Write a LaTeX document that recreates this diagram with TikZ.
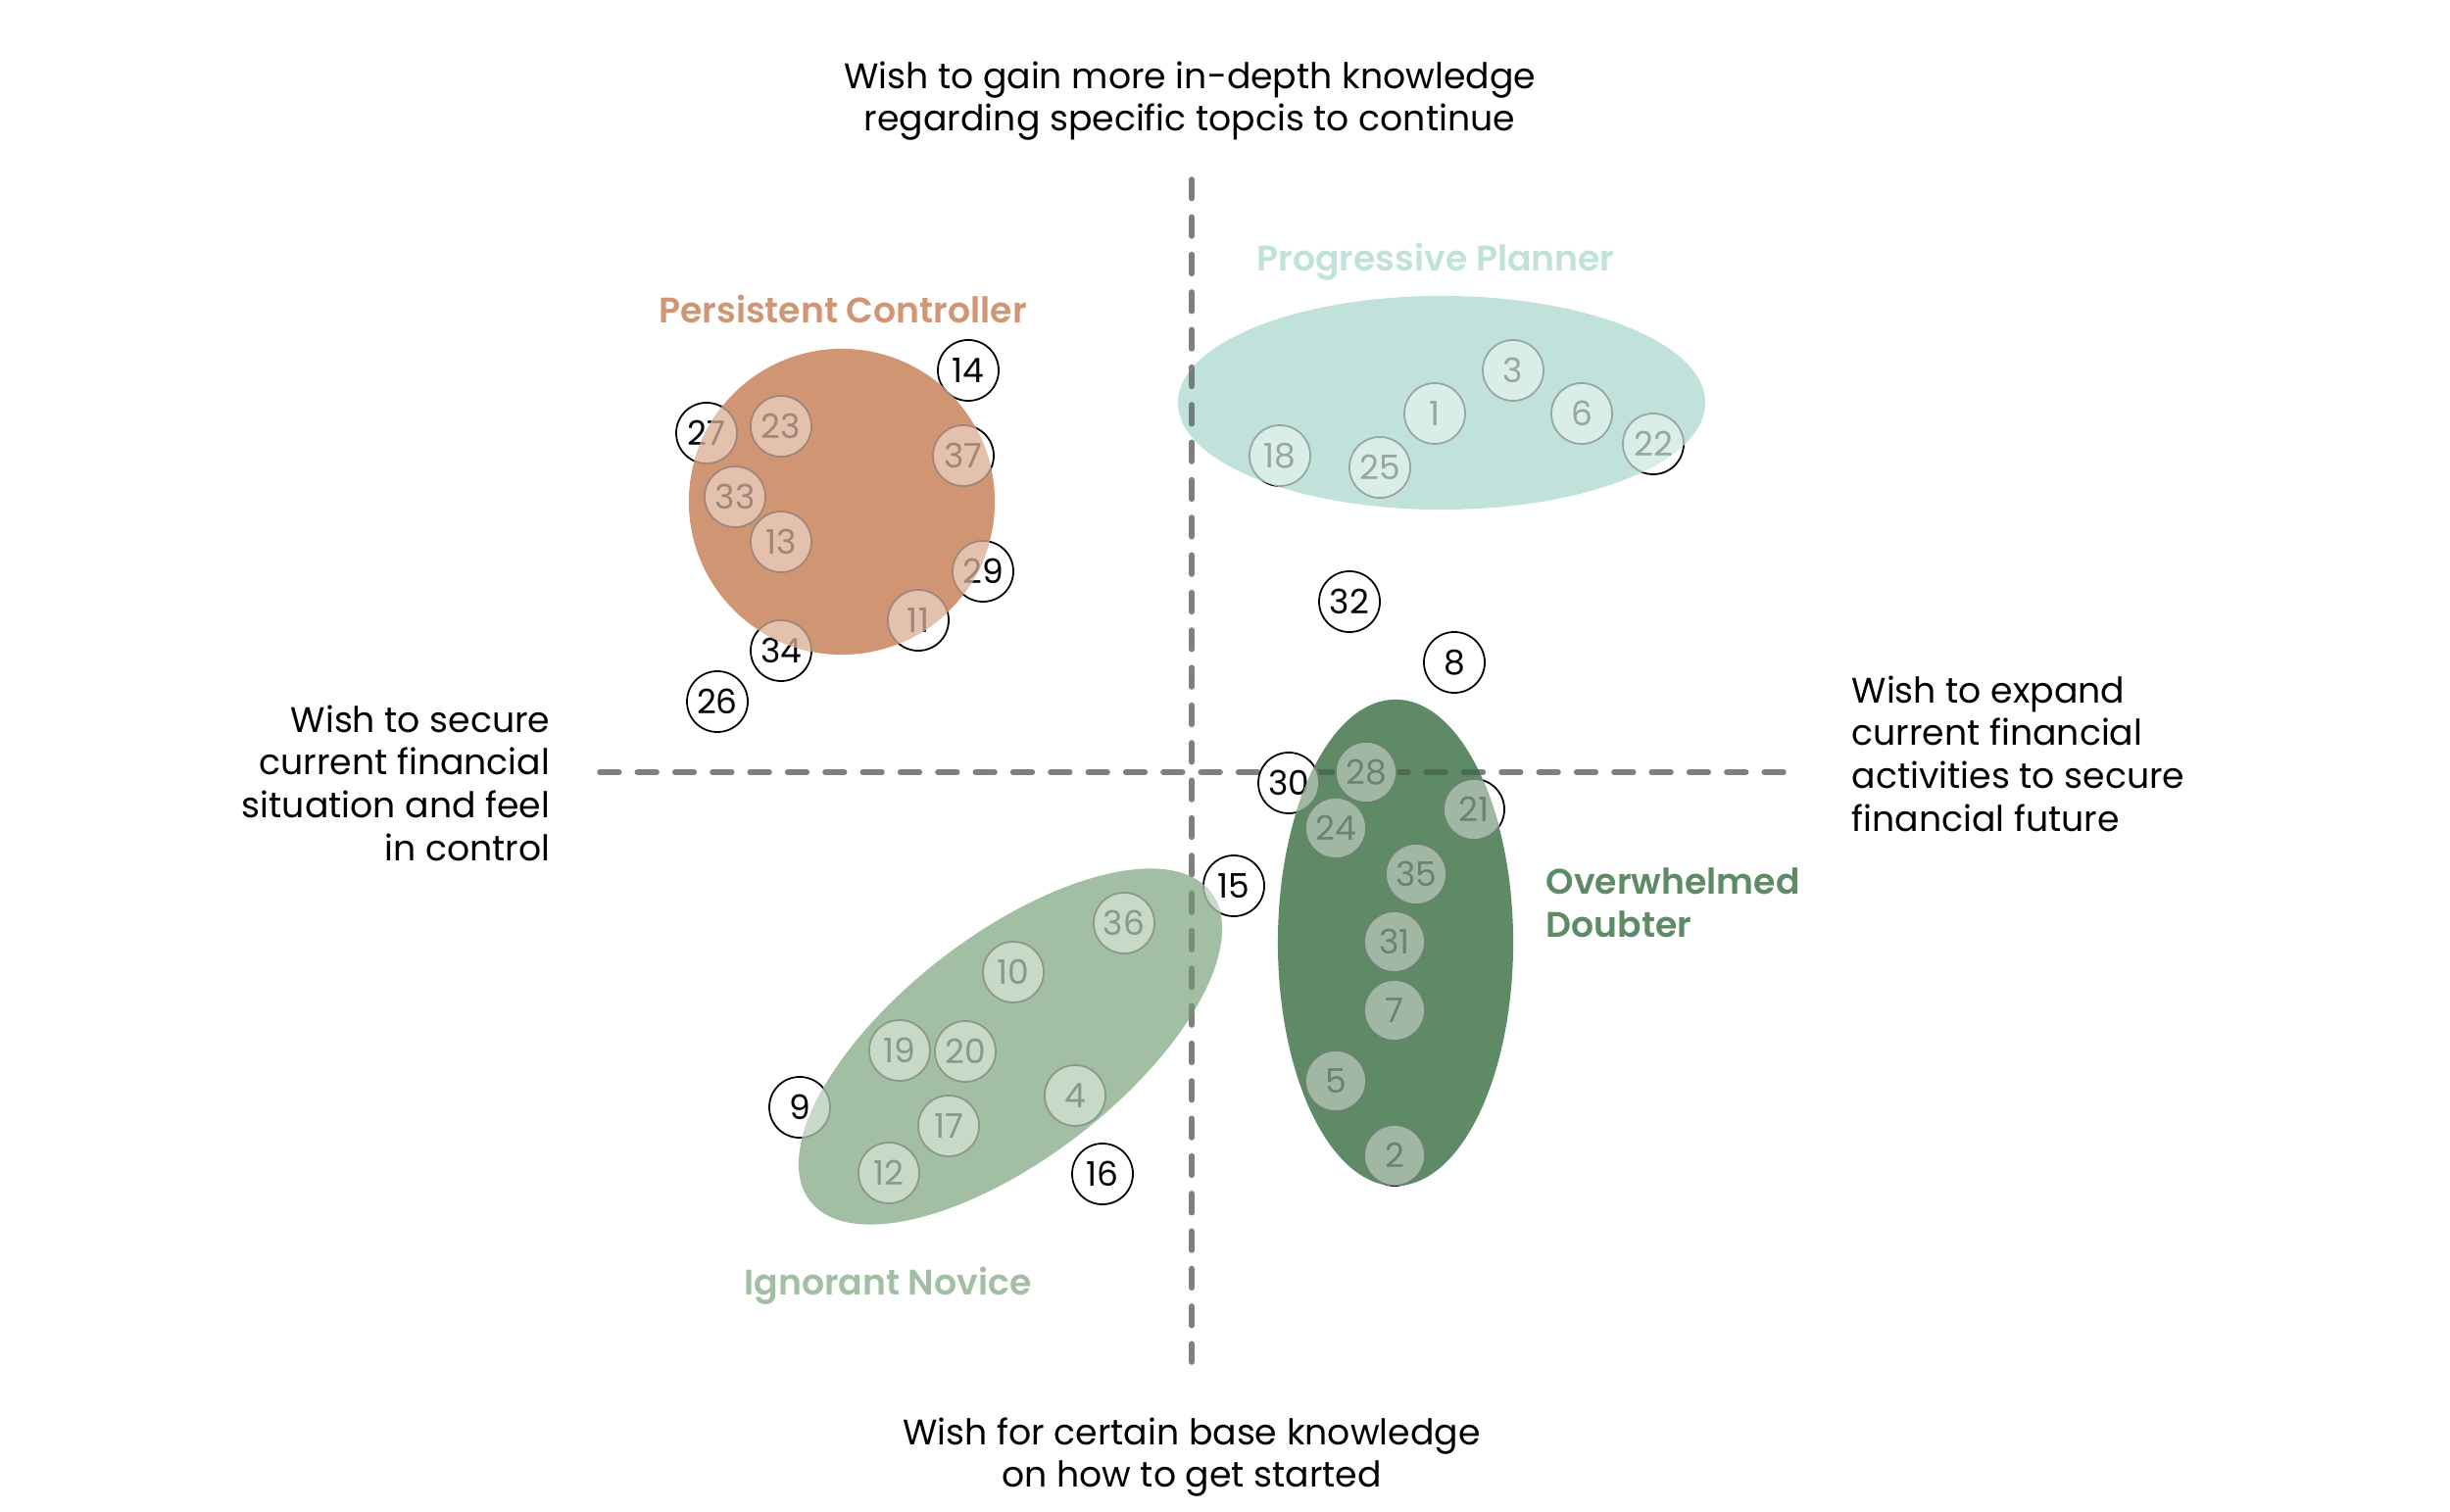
\documentclass[tikz,border=0pt]{standalone}
\usepackage{fontspec}
\setmainfont{Poppins}[BoldFont={Poppins SemiBold}]
\usetikzlibrary{shapes.geometric}

\definecolor{orng}{RGB}{208,149,114}
\definecolor{orngL}{RGB}{227,193,172}
\definecolor{orngT}{RGB}{159,134,120}
\definecolor{tealC}{RGB}{192,226,218}
\definecolor{tealL}{RGB}{218,238,233}
\definecolor{tealT}{RGB}{152,165,161}
\definecolor{tealD}{RGB}{112,128,124}
\definecolor{dgrn}{RGB}{94,138,102}
\definecolor{dgrnL}{RGB}{160,183,163}
\definecolor{dgrnT}{RGB}{108,130,112}
\definecolor{dgrnD}{RGB}{76,108,82}
\definecolor{lgrn}{RGB}{163,191,163}
\definecolor{lgrnL}{RGB}{200,217,200}
\definecolor{lgrnT}{RGB}{138,152,138}
\definecolor{lgrnD}{RGB}{122,143,122}
\definecolor{axisgray}{RGB}{128,128,128}

\begin{document}
\begin{tikzpicture}[x=0.01cm,y=-0.01cm,
  numfont/.style={font=\fontsize{9.8}{11}\selectfont},
  pt/.style={circle, draw=black, fill=white, line width=0.5pt, minimum size=0.62cm, inner sep=0pt, numfont},
  ov/.style={circle, line width=0.5pt, minimum size=0.62cm, inner sep=0pt, numfont},
  ovO/.style={ov, fill=orngL, draw=orngT, text=orngT},
  ovT/.style={ov, fill=tealL, draw=tealT, text=tealT},
  ovD/.style={ov, fill=dgrnL, draw=dgrnT, text=dgrnT},
  ovL/.style={ov, fill=lgrnL, draw=lgrnT, text=lgrnT},
  axisline/.style={line width=1.6pt, line cap=round, dash pattern=on 5.6pt off 5.3pt},
  note/.style={font=\fontsize{10.3}{12.4}\selectfont, text=black, inner sep=0pt},
  lbl/.style={font=\fontsize{10.3}{12.4}\selectfont\bfseries, inner sep=0pt},
  PCshape/.style={insert path={(859,512) circle [radius=1.56cm]}},
  PPshape/.style={insert path={(1471,411) ellipse [x radius=2.69cm, y radius=1.09cm]}},
  ODshape/.style={insert path={(1424,962) ellipse [x radius=1.20cm, y radius=2.48cm]}},
  INshape/.style={rotate around={37.6:(1031,1068)}, insert path={(1031,1068) ellipse [x radius=2.58cm, y radius=1.14cm]}}
]
\useasboundingbox (0,0) rectangle (2500,1543);

% axes
\coordinate (vtop) at (1216,183);
\coordinate (vbot) at (1216,1390);
\coordinate (hl) at (612,788);
\coordinate (hr) at (1822,788);
\draw[axisline, draw=axisgray] (vtop) -- (vbot);
\draw[axisline, draw=axisgray] (hl) -- (hr);

% data points
\foreach \n/\x/\y in {14/988/378, 27/721/442, 23/797/435, 37/983/465, 33/750/507,
  13/797/553, 29/1003/583, 11/937/633, 34/797/664, 26/732/716,
  18/1306/465, 25/1408/477, 1/1464/422, 3/1544/378, 6/1614/422, 22/1687/453,
  32/1377/614, 8/1484/676,
  30/1315/799, 28/1394/788, 24/1363/845, 21/1504/826, 35/1445/892, 31/1423/961,
  7/1423/1031, 5/1363/1103, 2/1423/1179,
  15/1259/904, 36/1147/942, 10/1034/992, 19/918/1072, 20/985/1073, 9/816/1130,
  4/1097/1118, 17/968/1149, 12/907/1197, 16/1125/1198}
  \node[pt] (p\n) at (\x,\y) {\n};

% cluster shapes
\fill[orng, PCshape];
\fill[tealC, PPshape];
\fill[dgrn, ODshape];
\fill[lgrn, INshape];

% overlays inside clusters
\begin{scope}
  \clip[PCshape];
  \foreach \n in {14,27,23,37,33,13,29,11,34}
    \node[ovO] (o\n) at (p\n) {\n};
\end{scope}
\begin{scope}
  \clip[PPshape];
  \draw[axisline, draw=tealD] (vtop) -- (vbot);
  \foreach \n in {18,25,1,3,6,22}
    \node[ovT] (o\n) at (p\n) {\n};
\end{scope}
\begin{scope}
  \clip[ODshape];
  \draw[axisline, draw=dgrnD] (hl) -- (hr);
  \foreach \n in {30,28,24,21,35,31,7,5,2}
    \node[ovD] (o\n) at (p\n) {\n};
\end{scope}
\begin{scope}
  \clip[INshape];
  \draw[axisline, draw=lgrnD] (vtop) -- (vbot);
  \foreach \n in {15,36,10,19,20,9,4,17,12,16}
    \node[ovL] (o\n) at (p\n) {\n};
\end{scope}

% cluster labels
\node[lbl, text=orng] (lPC) at (860,315) {Persistent Controller};
\node[lbl, text=tealC] (lPP) at (1465,267) {Progressive Planner};
\node[lbl, text=dgrn, align=left, anchor=west] (lOD) at (1577,921) {Overwhelmed\\Doubter};
\node[lbl, text=lgrn] (lIN) at (906,1312) {Ignorant Novice};

% axis notes
\node[note, align=center] (ntop) at (1214,103) {Wish to gain more in-depth knowledge\\regarding specific topcis to continue};
\node[note, align=center] (nbot) at (1216,1487) {Wish for certain base knowledge\\on how to get started};
\node[note, align=right, anchor=east] (nleft) at (562,799) {Wish to secure\\current financial\\situation and feel\\in control};
\node[note, align=left, anchor=west] (nright) at (1889,769) {Wish to expand\\current financial\\activities to secure\\financial future};
\end{tikzpicture}
\end{document}
